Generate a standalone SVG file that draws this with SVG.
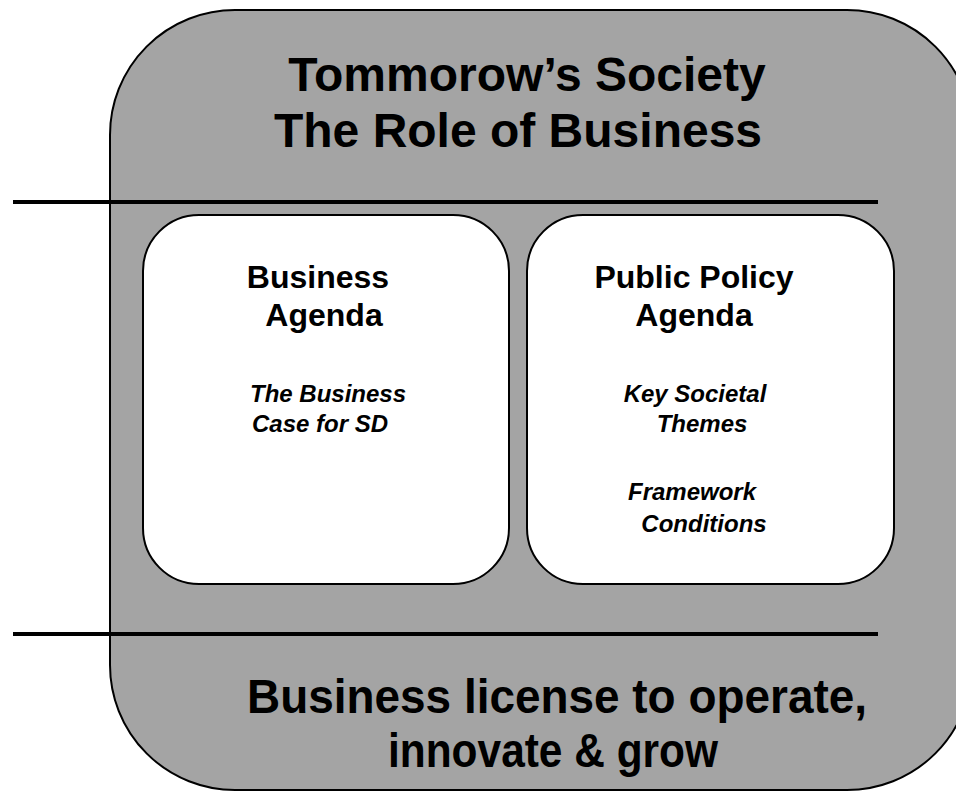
<svg xmlns="http://www.w3.org/2000/svg" width="956" height="791" viewBox="0 0 956 791">
<style>
.outer{fill:#a4a4a4;stroke:#000;stroke-width:2}
.box{fill:#fff;stroke:#000;stroke-width:2}
.rule{stroke:#000;stroke-width:4}
.t{font-weight:bold;fill:#000;text-anchor:middle}
.big{font-size:48px}
.head{font-size:32px}
.it{font-size:24px;font-style:italic}
.foot{font-size:48px}
</style>
<g id="frame" font-family="'Liberation Sans', Arial, Helvetica, sans-serif">
<rect class="outer" x="110" y="10" width="862" height="780" rx="125" ry="125"/>
<text class="t big" x="527" y="91">Tommorow’s Society</text>
<text class="t big" x="518" y="147">The Role of Business</text>
</g>
<g id="connectors">
<line class="rule" x1="13" y1="202" x2="878" y2="202"/>
<line class="rule" x1="13" y1="634" x2="878" y2="634"/>
</g>
<g id="business-agenda" font-family="'Liberation Sans', Arial, Helvetica, sans-serif">
<rect class="box" x="143" y="215" width="366" height="369" rx="56" ry="56"/>
<text class="t head" x="318" y="288">Business</text>
<text class="t head" x="324" y="326">Agenda</text>
<text class="t it" x="328" y="402">The Business</text>
<text class="t it" x="320" y="432">Case for SD</text>
</g>
<g id="public-policy-agenda" font-family="'Liberation Sans', Arial, Helvetica, sans-serif">
<rect class="box" x="527" y="215" width="367" height="369" rx="56" ry="56"/>
<text class="t head" x="694" y="288">Public Policy</text>
<text class="t head" x="694" y="326">Agenda</text>
<text class="t it" x="695" y="402">Key Societal</text>
<text class="t it" x="702" y="432">Themes</text>
<text class="t it" x="692" y="500">Framework</text>
<text class="t it" x="704" y="532">Conditions</text>
</g>
<g id="footer" font-family="'Liberation Sans', Arial, Helvetica, sans-serif">
<text class="t foot" x="557" y="713" textLength="620" lengthAdjust="spacingAndGlyphs">Business license to operate,</text>
<text class="t foot" x="553" y="767" textLength="330" lengthAdjust="spacingAndGlyphs">innovate &amp; grow</text>
</g>
</svg>
